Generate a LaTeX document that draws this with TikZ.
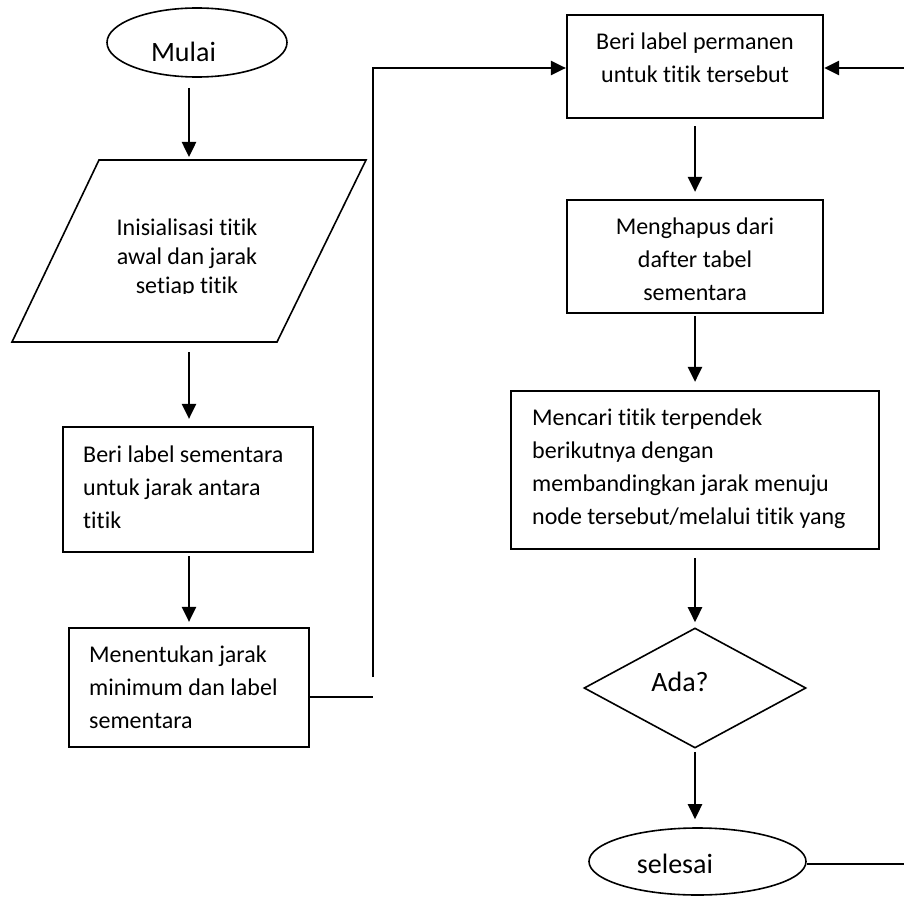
\documentclass[tikz,border=0pt]{standalone}
\usepackage{fontspec}
\setmainfont{Carlito}[Ligatures=NoCommon]
\usetikzlibrary{shapes.geometric,arrows.meta}
\begin{document}
\begin{tikzpicture}[x=1pt,y=-1pt,
  arr/.style={line width=2.5pt,-{Triangle[length=15pt,width=14pt]}},
  conn/.style={line width=2.2pt},
  box/.style={draw,line width=2.2pt,inner sep=0pt},
  term/.style={draw,ellipse,line width=1.6pt,inner sep=0pt},
  dia/.style={draw,diamond,line width=1.6pt,inner sep=0pt},
  thinline/.style={line width=1.6pt},
  txt/.style={inner sep=0pt,font=\fontsize{24}{33}\selectfont,align=left},
  ctxt/.style={inner sep=0pt,font=\fontsize{24}{33}\selectfont,align=center},
  ptxt/.style={inner sep=0pt,font=\fontsize{24}{29}\selectfont,align=center},
  lbl/.style={inner sep=0pt,font=\fontsize{28}{34}\selectfont}]
\useasboundingbox (0,0) rectangle (904,896);

% left column
\node[term,minimum width=180pt,minimum height=69pt] (mulai) at (197,42.5) {};
\node[lbl,anchor=base] (mulaiT) at (183.5,62) {Mulai};

\draw[thinline] (99,160) -- (366,160) -- (277,342) -- (12,342) -- cycle;
\coordinate (paraTop) at (189,160);
\coordinate (paraBot) at (189,342);
\begin{scope}
  \clip (0,150) rectangle (400,293.5);
  \node[ptxt,anchor=base] (paraT) at (187,293) {Inisialisasi titik\\awal dan jarak\\setiap titik};
\end{scope}

\node[box,minimum width=250pt,minimum height=125pt] (lsem) at (188,489.5) {};
\node[txt,anchor=base west] (lsemT) at (83,528) {Beri label sementara\\untuk jarak antara\\titik};

\node[box,minimum width=240pt,minimum height=119pt] (tentu) at (189,687.5) {};
\node[txt,anchor=base west] (tentuT) at (89,728) {Menentukan jarak\\minimum dan label\\sementara};

% right column
\node[box,minimum width=256pt,minimum height=103pt] (perm) at (695,66.5) {};
\node[ctxt,anchor=base] (permT) at (695,83) {Beri label permanen\\untuk titik tersebut};

\node[box,minimum width=256pt,minimum height=113pt] (hapus) at (695,256.5) {};
\node[ctxt,anchor=base] (hapusT) at (695,300) {Menghapus dari\\dafter tabel\\sementara};

\node[box,minimum width=368pt,minimum height=158pt] (cari) at (695,470) {};
\node[txt,anchor=base west] (cariT) at (532,524) {Mencari titik terpendek\\berikutnya dengan\\membandingkan jarak menuju\\node tersebut/melalui titik yang};

\node[dia,minimum width=222pt,minimum height=120pt] (ada) at (695,688) {};
\node[lbl,anchor=base] (adaT) at (680,691) {Ada?};

\node[term,minimum width=217pt,minimum height=67pt] (selesai) at (697.5,861.5) {};
\node[lbl,anchor=base] (selesaiT) at (675,873) {selesai};

% connectors left
\draw[arr,shorten <=10pt,shorten >=3pt] (mulai.south -| paraTop) -- (paraTop);
\draw[arr,shorten <=10pt,shorten >=7pt] (paraBot) -- (paraBot |- lsem.north);
\draw[arr,shorten <=3pt,shorten >=5pt] (tentu.north |- lsem.south) -- (tentu.north);

% loop back
\coordinate (j1) at (373,697);
\coordinate (j2) at (373,677);
\coordinate (j3) at (373,68);
\draw[conn] (tentu.east |- j1) -- (j1);
\draw[arr] (j2) -- (j3) -- (perm.west |- j3);

\coordinate (r1) at (904,68);
\coordinate (r2) at (904,864);
\draw[arr] (r1) -- (perm.east |- r1);
\draw[conn] (selesai.east |- r2) -- (r2);

% connectors right
\draw[arr,shorten <=7pt,shorten >=7pt] (perm.south) -- (hapus.north);
\draw[arr,shorten <=2pt,shorten >=8pt] (hapus.south) -- (cari.north);
\draw[arr,shorten <=8pt,shorten >=5pt] (cari.south) -- (ada.north);
\draw[arr,shorten <=3pt,shorten >=8pt] (ada.south) -- (selesai.north -| ada.south);
\end{tikzpicture}
\end{document}
